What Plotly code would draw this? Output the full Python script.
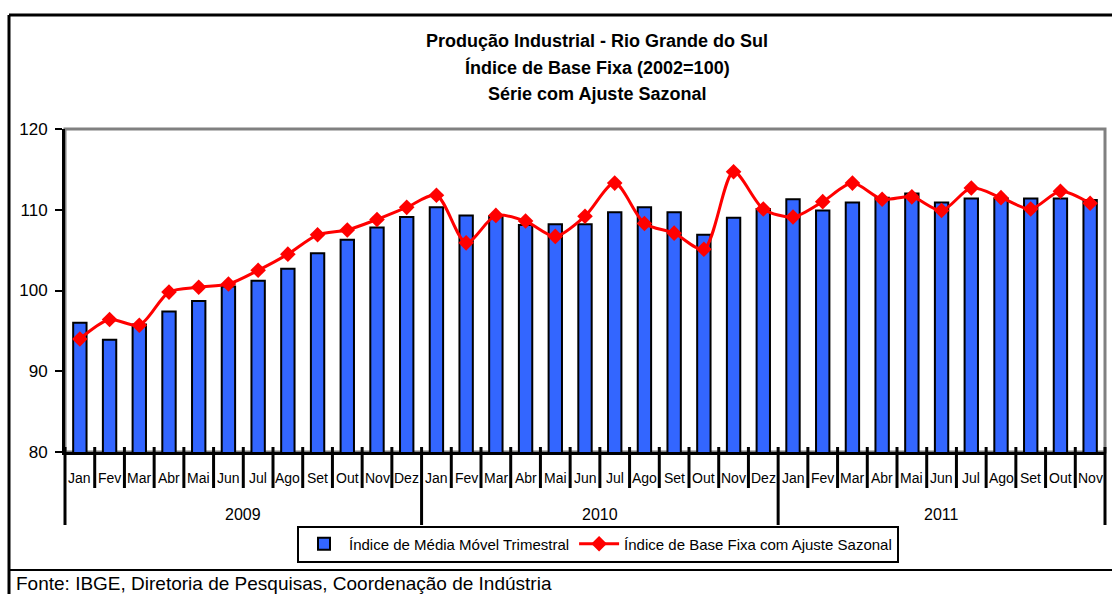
import plotly.graph_objects as go

# ---------------- data ----------------
months = ["Jan", "Fev", "Mar", "Abr", "Mai", "Jun", "Jul", "Ago", "Set", "Out", "Nov", "Dez"]
years = ["2009", "2010", "2011"]
month_labels = months + months + months[:11]
year_of = ["2009"] * 12 + ["2010"] * 12 + ["2011"] * 11

media_movel = [96.0, 93.9, 95.8, 97.4, 98.7, 100.5, 101.2, 102.7, 104.6, 106.3, 107.8, 109.1,
               110.3, 109.3, 109.2, 108.1, 108.2, 108.2, 109.7, 110.3, 109.7, 106.9, 109.0, 110.1,
               111.3, 109.9, 110.9, 111.5, 112.0, 110.9, 111.4, 111.4, 111.4, 111.4, 111.2]

ajuste_sazonal = [94.0, 96.4, 95.7, 99.8, 100.4, 100.8, 102.5, 104.5, 106.9, 107.5, 108.8, 110.3,
                  111.8, 105.9, 109.3, 108.6, 106.7, 109.2, 113.3, 108.3, 107.1, 105.1, 114.7, 110.1,
                  109.1, 111.0, 113.3, 111.3, 111.6, 109.9, 112.7, 111.5, 110.1, 112.3, 110.8]

y_ticks = [80, 90, 100, 110, 120]
title_lines = ["Produção Industrial - Rio Grande do Sul",
               "Índice de Base Fixa (2002=100)",
               "Série com Ajuste Sazonal"]
fonte = "Fonte: IBGE, Diretoria de Pesquisas, Coordenação de Indústria"

# ---------------- layout geometry (pixels) ----------------
W, H = 1112, 594
L, R, T, B = 65, 7, 129, 142
PW = W - L - R
PH = H - T - B
FONT = "Liberation Sans, Arial, sans-serif"


def px(xpix):
    return (xpix - L) / PW


def py(ypix):
    return (H - B - ypix) / PH


n = len(month_labels)
idx = list(range(n))

fig = go.Figure()
fig.add_trace(go.Bar(
    x=idx, y=media_movel, name="Índice de Média Móvel Trimestral",
    marker=dict(color="#3366FF", line=dict(color="black", width=2)),
    width=0.45,
))
fig.add_trace(go.Scatter(
    x=idx, y=ajuste_sazonal, name="Índice de Base Fixa com Ajuste Sazonal",
    mode="lines+markers",
    line=dict(color="#FF0000", width=3, shape="spline", smoothing=0.8),
    marker=dict(symbol="diamond", size=12, color="#FF0000"),
))

shapes = []
# plot area frame (grey)
shapes.append(dict(type="rect", xref="paper", yref="paper", x0=0, x1=1, y0=0, y1=1,
                   line=dict(color="#808080", width=3), layer="below"))
# outer chart border
shapes.append(dict(type="line", xref="paper", yref="paper", x0=px(9), x1=px(W + 5),
                   y0=py(15), y1=py(15), line=dict(color="black", width=3)))
shapes.append(dict(type="line", xref="paper", yref="paper", x0=px(9), x1=px(9),
                   y0=py(15), y1=py(H + 5), line=dict(color="black", width=3)))
shapes.append(dict(type="line", xref="paper", yref="paper", x0=px(9), x1=px(W + 5),
                   y0=py(570), y1=py(570), line=dict(color="black", width=2)))

# category dividers
year_starts = {0, 12, 24, n}
for k in range(n + 1):
    xp = k / n
    bottom = 525 if k in year_starts else 488
    shapes.append(dict(type="line", xref="paper", yref="paper", x0=xp, x1=xp,
                       y0=py(447), y1=py(bottom), line=dict(color="black", width=3)))

annotations = []
# title
for line, ypix in zip(title_lines, [41, 67, 94]):
    annotations.append(dict(text="<b>" + line + "</b>", xref="paper", yref="paper",
                            x=px(597), y=py(ypix), showarrow=False,
                            xanchor="center", yanchor="middle",
                            font=dict(family=FONT, size=18, color="black")))
# month labels
for i, m in enumerate(month_labels):
    annotations.append(dict(text=m, xref="x", yref="paper", x=i, y=py(478),
                            showarrow=False, xanchor="center", yanchor="middle",
                            font=dict(family=FONT, size=14, color="black")))
# year labels
for yr in years:
    pos = [i for i, y in enumerate(year_of) if y == yr]
    annotations.append(dict(text=yr, xref="x", yref="paper", x=(pos[0] + pos[-1]) / 2,
                            y=py(514), showarrow=False, xanchor="center", yanchor="middle",
                            font=dict(family=FONT, size=16, color="black")))
# source
annotations.append(dict(text=fonte, xref="paper", yref="paper", x=px(14), y=py(583),
                        showarrow=False, xanchor="left", yanchor="middle",
                        font=dict(family=FONT, size=19, color="black")))

fig.update_layout(
    width=W, height=H,
    margin=dict(l=L, r=R, t=T, b=B, pad=0),
    paper_bgcolor="white", plot_bgcolor="white",
    showlegend=True,
    legend=dict(orientation="h", x=px(598), y=py(544), xanchor="center", yanchor="middle",
                bordercolor="black", borderwidth=2, bgcolor="white",
                font=dict(family=FONT, size=15, color="black"),
                itemwidth=40, tracegroupgap=0),
    xaxis=dict(range=[-0.5, n - 0.5], showticklabels=False, ticks="", showgrid=False,
               zeroline=False, showline=True, linecolor="black", linewidth=3),
    yaxis=dict(range=[80, 120], tickvals=y_ticks, ticks="outside", ticklen=7, tickwidth=2,
               tickcolor="black", showgrid=False, zeroline=False, showline=True,
               linecolor="black", linewidth=3, ticklabelstandoff=4,
               tickfont=dict(family=FONT, size=17, color="black")),
    shapes=shapes,
    annotations=annotations,
    bargap=0.5,
)

fig.write_html("out.html",
               config={"displayModeBar": False},
               post_script="document.body.style.margin='0';document.body.style.padding='0';")
